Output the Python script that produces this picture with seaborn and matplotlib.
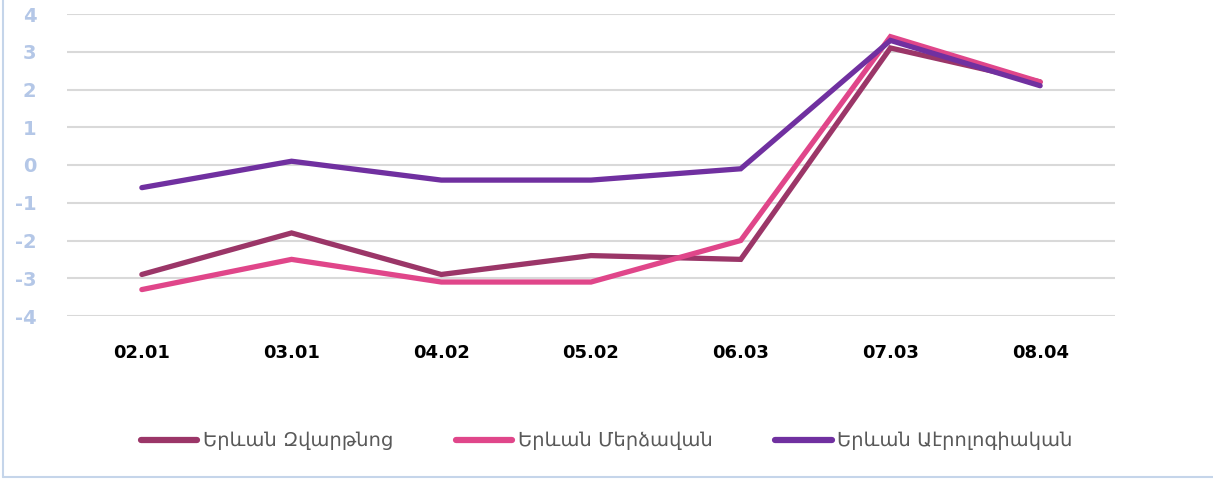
import matplotlib
matplotlib.use("Agg")
import matplotlib.pyplot as plt
import seaborn as sns
import pandas as pd
from matplotlib.lines import Line2D

categories = ["02.01", "03.01", "04.02", "05.02", "06.03", "07.03", "08.04"]
zvartnots = [-2.9, -1.8, -2.9, -2.4, -2.5, 3.1, 2.2]
merdzavan = [-3.3, -2.5, -3.1, -3.1, -2.0, 3.4, 2.2]
aerolog = [-0.6, 0.1, -0.4, -0.4, -0.1, 3.3, 2.1]
series_names = ["Երևան Զվարթնոց", "Երևան Մերձավան", "Երևան Աէրոլոգիական"]
colors = ["#9B3668", "#E0468A", "#7030A0"]
yticks = [-4, -3, -2, -1, 0, 1, 2, 3, 4]

sns.set_style("white")
plt.rcParams["font.family"] = ["DejaVu Sans"]

rows = []
for name, vals in zip(series_names, [zvartnots, merdzavan, aerolog]):
    for c, v in zip(categories, vals):
        rows.append({"date": c, "value": v, "series": name})
df = pd.DataFrame(rows)

fig = plt.figure(figsize=(12.13, 4.8), dpi=100)
ax = fig.add_axes([67 / 1213, 1 - 316 / 480, (1115 - 67) / 1213, (316 - 14) / 480])

sns.lineplot(data=df, x="date", y="value", hue="series", palette=colors,
             hue_order=series_names, linewidth=3.8, ax=ax, legend=False,
             sort=False)
for l in ax.lines:
    l.set_solid_capstyle("round")
    l.set_solid_joinstyle("miter")

ax.set_xlim(-0.5, 6.5)
ax.set_ylim(-4, 4)
ax.set_yticks(yticks)
ax.set_yticklabels([str(t) for t in yticks])
ax.set_xticks(range(len(categories)))
ax.set_xticklabels(categories)
ax.set_xlabel("")
ax.set_ylabel("")
ax.grid(axis="y", color="#D9D9D9", linewidth=1.5)
ax.grid(axis="x", visible=False)
ax.set_axisbelow(True)
for s in ax.spines.values():
    s.set_visible(False)
ax.tick_params(axis="y", length=0, pad=22, labelsize=14, labelcolor="#B4C7E7")
ax.tick_params(axis="x", length=0, pad=20, labelsize=13, labelcolor="#000000")
for t in ax.get_yticklabels():
    t.set_fontweight("bold")
for t in ax.get_xticklabels():
    t.set_fontweight("bold")

handles = [Line2D([0], [0], color=c, linewidth=4.5, solid_capstyle="round") for c in colors]
fig.legend(handles, series_names, loc="center", bbox_to_anchor=(607 / 1213, 1 - 441 / 480),
           ncol=3, frameon=False, fontsize=14, labelcolor="#595959",
           handlelength=2.9, handletextpad=0.3, columnspacing=3.2)

# figure border lines (left & bottom)
fig.add_artist(Line2D([3 / 1213, 3 / 1213], [1 - 477 / 480, 1], color="#C5D5EA", linewidth=1.5))
fig.add_artist(Line2D([3 / 1213, 1], [1 - 477 / 480, 1 - 477 / 480], color="#C5D5EA", linewidth=1.5))

fig.savefig("out.png", dpi=100)
